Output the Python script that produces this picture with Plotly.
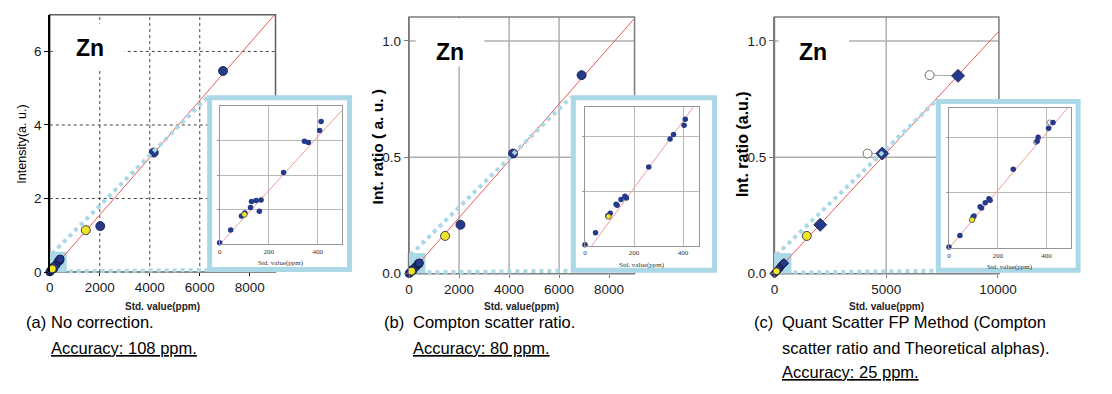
import plotly.graph_objects as go

W, H = 1112, 394

# ---------------- data ----------------
# (a) No correction: intensity (a.u.) vs standard value (ppm)
a_hi_std = [6930, 4160, 2020]
a_hi_val = [5.47, 3.25, 1.25]
a_hi_yel_std = [1440]
a_hi_yel_val = [1.14]
a_lo_std = [0, 45, 89, 103, 126, 130, 149, 169, 162, 261, 346, 362, 408, 414]
a_lo_val = [0.005, 0.042, 0.082, 0.091, 0.107, 0.124, 0.127, 0.129, 0.096, 0.208, 0.299, 0.295, 0.330, 0.356]
a_lo_yel_std = [101]
a_lo_yel_val = [0.087]
a_slope, a_icpt = 0.000778, 0.0

# (b) Compton scatter ratio
b_hi_std = [6900, 4157, 2055]
b_hi_val = [0.853, 0.516, 0.210]
b_hi_yel_std = [1439]
b_hi_yel_val = [0.162]
b_lo_std = [0, 43, 93, 103, 127, 131, 147, 163, 169, 260, 347, 361, 404, 409]
b_lo_val = [0.0004, 0.0048, 0.0110, 0.0119, 0.0152, 0.0148, 0.0169, 0.0181, 0.0175, 0.0288, 0.0390, 0.0406, 0.0440, 0.0462]
b_lo_yel_std = [96]
b_lo_yel_val = [0.0107]
b_slope, b_icpt = 0.000122, -0.0033

# (c) Quant Scatter FP method
c_hi_std = [8215, 4825, 2048]
c_hi_val = [0.850, 0.516, 0.210]
c_hi_open_std = [6943, 4167]
c_hi_open_val = [0.853, 0.516]
c_hi_yel_std = [1447]
c_hi_yel_val = [0.162]
c_lo_std = [0, 45, 99, 103, 128, 134, 149, 164, 169, 264, 362, 366, 409, 427]
c_lo_val = [0.0004, 0.0046, 0.0112, 0.0116, 0.0149, 0.0145, 0.0164, 0.0178, 0.0173, 0.0284, 0.0385, 0.0400, 0.0432, 0.0453]
c_lo_open_std = [357, 414]
c_lo_open_val = [0.0382, 0.0453]
c_lo_yel_std = [95]
c_lo_yel_val = [0.0102]
c_slope, c_icpt = 0.0001037, 0.0

# ticks / grid
a_xticks = [0, 2000, 4000, 6000, 8000]
a_yticks = [0, 2, 4, 6]
a_gridx = [2000, 4000, 6000]
a_gridy = [2, 4, 6]
b_xticks = [0, 2000, 4000, 6000, 8000]
b_yticks = [0.0, 0.5, 1.0]
b_gridx = [2000, 4000, 6000]
b_gridy = [0.5, 1.0]
c_xticks = [0, 5000, 10000]
c_yticks = [0.0, 0.5, 1.0]
c_gridx = [5000]
c_gridy = [0.5, 1.0]
in_xticks = [0, 200, 400]
a_in_yticks = [0.1, 0.2, 0.3]
bc_in_yticks = [0.02, 0.04]

# ---------------- style ----------------
BLUE = "rgb(38,58,140)"
EDGE = "rgb(20,22,60)"
YEL = "rgb(240,228,40)"
LBLUE = "rgb(170,216,230)"
RED = "rgb(232,92,88)"
PINK = "rgb(242,155,150)"
SANS = "Liberation Sans, Arial, sans-serif"
SERIF = "Liberation Serif, Times New Roman, serif"


def fx(p):
    return p / W


def fy(p):
    return 1 - p / H


def hdom(a, b):
    return [a / W, b / W]


def vdom(top, bottom):
    return [1 - bottom / H, 1 - top / H]


def clip_line(m, b, xr, yr):
    pts = []
    for x in xr:
        y = m * x + b
        if yr[0] - 1e-12 <= y <= yr[1] + 1e-12:
            pts.append((x, y))
    for y in yr:
        x = (y - b) / m
        if xr[0] <= x <= xr[1]:
            pts.append((x, y))
    pts = sorted(set(pts))
    return [pts[0][0], pts[-1][0]], [pts[0][1], pts[-1][1]]


panels = {
    "a": dict(main=("x", "y"), ins=("x2", "y2"),
              mx=[46.7, 277], my=[15, 277.7], mxr=[0, 9030], myr=[0, 7.0],
              ix=[220, 345], iy=[108.5, 249.5], ixr=[0, 500], iyr=[0, 0.40]),
    "b": dict(main=("x3", "y3"), ins=("x4", "y4"),
              mx=[413.3, 643.3], my=[17.3, 279.3], mxr=[0, 9020], myr=[0, 1.103],
              ix=[592.7, 709.3], iy=[109, 251], ixr=[0, 466], iyr=[0, 0.0507]),
    "c": dict(main=("x5", "y5"), ins=("x6", "y6"),
              mx=[786, 1015], my=[17.3, 279.3], mxr=[0, 10044], myr=[0, 1.103],
              ix=[964, 1088.3], iy=[110, 253.3], ixr=[0, 500], iyr=[0, 0.0506]),
}

fig = go.Figure()


def add_scatter(x, y, ax, size, color, line_color, line_w, symbol="circle"):
    fig.add_trace(go.Scatter(
        x=x, y=y, mode="markers", xaxis=ax[0], yaxis=ax[1], cliponaxis=False,
        marker=dict(size=size, color=color, symbol=symbol,
                    line=dict(color=line_color, width=line_w)),
        showlegend=False, hoverinfo="skip"))


def add_line(m, b, p, which, color):
    if which == "main":
        lx, ly = clip_line(m, b, p["mxr"], p["myr"])
        ax = p["main"]
    else:
        lx, ly = clip_line(m, b, p["ixr"], p["iyr"])
        ax = p["ins"]
    fig.add_trace(go.Scatter(x=lx, y=ly, mode="lines", xaxis=ax[0], yaxis=ax[1],
                             line=dict(color=color, width=1), showlegend=False,
                             hoverinfo="skip"))


# ---- panel a ----
pa = panels["a"]
add_line(a_slope, a_icpt, pa, "main", RED)
add_scatter(a_lo_std, a_lo_val, pa["main"], 8, BLUE, EDGE, 0.8)
add_scatter(a_lo_yel_std, a_lo_yel_val, pa["main"], 8, YEL, EDGE, 0.8)
add_scatter(a_hi_std, a_hi_val, pa["main"], 9, BLUE, EDGE, 0.8)
add_scatter(a_hi_yel_std, a_hi_yel_val, pa["main"], 9, YEL, EDGE, 0.8)

# ---- panel b ----
pb = panels["b"]
add_line(b_slope, b_icpt, pb, "main", RED)
add_scatter(b_lo_std, b_lo_val, pb["main"], 8, BLUE, EDGE, 0.8)
add_scatter(b_lo_yel_std, b_lo_yel_val, pb["main"], 8, YEL, EDGE, 0.8)
add_scatter(b_hi_std, b_hi_val, pb["main"], 9, BLUE, EDGE, 0.8)
add_scatter(b_hi_yel_std, b_hi_yel_val, pb["main"], 9, YEL, EDGE, 0.8)

# ---- panel c ----
pc = panels["c"]
add_line(c_slope, c_icpt, pc, "main", RED)
conn_x, conn_y = [], []
for xo, yo, xd, yd in zip(c_hi_open_std, c_hi_open_val, c_hi_std, c_hi_val):
    conn_x += [xo, xd, None]
    conn_y += [yo, yd, None]
fig.add_trace(go.Scatter(x=conn_x, y=conn_y, mode="lines", xaxis="x5", yaxis="y5",
                         line=dict(color="rgb(170,170,170)", width=1),
                         showlegend=False, hoverinfo="skip"))
add_scatter(c_lo_std, c_lo_val, pc["main"], 7, BLUE, EDGE, 0.8, "diamond")
add_scatter(c_lo_yel_std, c_lo_yel_val, pc["main"], 7, YEL, EDGE, 0.8)
add_scatter(c_hi_open_std, c_hi_open_val, pc["main"], 9, "white", "rgb(110,110,110)", 1)
add_scatter(c_hi_std, c_hi_val, pc["main"], 10, BLUE, EDGE, 0.8, "diamond")
add_scatter(c_hi_yel_std, c_hi_yel_val, pc["main"], 9, YEL, EDGE, 0.8)

# ---- insets ----
for key, lo_x, lo_y, ly_x, ly_y, m, b in [
    ("a", a_lo_std, a_lo_val, a_lo_yel_std, a_lo_yel_val, a_slope, a_icpt),
    ("b", b_lo_std, b_lo_val, b_lo_yel_std, b_lo_yel_val, b_slope, b_icpt),
    ("c", c_lo_std, c_lo_val, c_lo_yel_std, c_lo_yel_val, c_slope, c_icpt),
]:
    p = panels[key]
    add_line(m, b, p, "ins", PINK)
    if key == "c":
        add_scatter(c_lo_open_std, c_lo_open_val, p["ins"], 5, "white", "rgb(110,110,110)", 0.8)
    add_scatter(lo_x, lo_y, p["ins"], 5.5, BLUE, BLUE, 0)
    add_scatter(ly_x, ly_y, p["ins"], 5.5, YEL, EDGE, 0.6)

# ---------------- axes ----------------
tickfont = dict(family=SANS, size=13.5, color="#1a1a1a")
layout = dict(width=W, height=H, margin=dict(l=0, r=0, t=0, b=0, pad=0),
              paper_bgcolor="white", plot_bgcolor="rgba(0,0,0,0)", showlegend=False)

main_ticks = {"a": (a_xticks, a_yticks, None), "b": (b_xticks, b_yticks, ".1f"),
              "c": (c_xticks, c_yticks, ".1f")}
idx = {"a": (1, 2), "b": (3, 4), "c": (5, 6)}
for key, p in panels.items():
    mi, ii = idx[key]
    xt, yt, yfmt = main_ticks[key]
    axcol = "black" if key == "a" else "rgb(120,120,120)"
    layout["xaxis%s" % ("" if mi == 1 else mi)] = dict(
        domain=hdom(*p["mx"]), range=p["mxr"], anchor=p["main"][1],
        tickvals=xt, tickformat="d", ticks="outside", ticklen=3, tickcolor=axcol,
        showgrid=False, zeroline=False, showline=False, tickfont=tickfont)
    ydict = dict(domain=vdom(*p["my"]), range=p["myr"], anchor=p["main"][0],
                 tickvals=yt, ticks="outside", ticklen=4, tickcolor=axcol,
                 showgrid=False, zeroline=False, showline=True,
                 linecolor=axcol, linewidth=1.5, tickfont=tickfont)
    if yfmt:
        ydict["tickformat"] = yfmt
    layout["yaxis%s" % ("" if mi == 1 else mi)] = ydict
    layout["xaxis%d" % ii] = dict(
        domain=hdom(*p["ix"]), range=p["ixr"], anchor=p["ins"][1],
        tickvals=in_xticks, ticks="", showgrid=True, gridcolor="rgb(185,185,185)",
        gridwidth=1, zeroline=False, showline=True, mirror=True,
        linecolor="rgb(150,150,150)", linewidth=1,
        tickfont=dict(family=SERIF, size=7, color="#333"))
    layout["yaxis%d" % ii] = dict(
        domain=vdom(*p["iy"]), range=p["iyr"], anchor=p["ins"][0],
        tickvals=a_in_yticks if key == "a" else bc_in_yticks,
        showticklabels=False, ticks="outside", ticklen=2, tickcolor="#999",
        showgrid=True, gridcolor="rgb(185,185,185)", gridwidth=1,
        zeroline=False, showline=True, mirror=True,
        linecolor="rgb(150,150,150)", linewidth=1)

# ---------------- shapes ----------------
shapes = []
grids = {"a": (a_gridx, a_gridy, dict(color="rgb(70,70,70)", width=1, dash="dot")),
         "b": (b_gridx, b_gridy, dict(color="rgb(175,175,175)", width=1.5)),
         "c": (c_gridx, c_gridy, dict(color="rgb(175,175,175)", width=1.5))}
for key, p in panels.items():
    gx, gy, gl = grids[key]
    xa, ya = p["main"]
    for v in gx:
        shapes.append(dict(type="line", xref=xa, yref=ya + " domain", x0=v, x1=v,
                           y0=0, y1=1, line=gl, layer="below"))
    for v in gy:
        shapes.append(dict(type="line", xref=xa + " domain", yref=ya, x0=0, x1=1,
                           y0=v, y1=v, line=gl, layer="below"))
    fcol = "rgb(95,95,95)" if key == "a" else "rgb(125,125,125)"
    shapes.append(dict(type="rect", xref=xa + " domain", yref=ya + " domain",
                       x0=0, x1=1, y0=0, y1=1, line=dict(color=fcol, width=1.5),
                       layer="below"))

# zoom boxes near origin, inset frames and connectors (pixel positions)
deco = {
    "a": dict(box=(46, 64, 257, 278), frame=(207.3, 355, 97.3, 277.7)),
    "b": dict(box=(411.7, 430, 258.3, 279), frame=(578.3, 727.3, 97.3, 278.3)),
    "c": dict(box=(785, 803.3, 258.3, 279.3), frame=(950.7, 1098.3, 101, 278.3)),
}
BW = 5
for key, d in deco.items():
    bx0, bx1, by0, by1 = d["box"]
    shapes.append(dict(type="rect", xref="paper", yref="paper",
                       x0=fx(bx0), x1=fx(bx1), y0=fy(by1), y1=fy(by0),
                       fillcolor=LBLUE, line=dict(width=0), layer="below"))
    f0, f1, g0, g1 = d["frame"]
    h = BW / 2
    shapes.append(dict(type="rect", xref="paper", yref="paper",
                       x0=fx(f0 + h), x1=fx(f1 - h), y0=fy(g1 - h), y1=fy(g0 + h),
                       fillcolor="white", line=dict(color=LBLUE, width=BW),
                       layer="below"))
    dl = dict(color=LBLUE, width=4, dash="dot")
    shapes.append(dict(type="line", xref="paper", yref="paper",
                       x0=fx(bx0 + 3), y0=fy(by0 + 2), x1=fx(f0), y1=fy(g0 + 2),
                       line=dl, layer="above"))
    shapes.append(dict(type="line", xref="paper", yref="paper",
                       x0=fx(bx1 + 2), y0=fy(by1 - 1), x1=fx(f0), y1=fy(g1 - 2),
                       line=dl, layer="above"))

# white boxes behind the element label
zn = {"a": ((53, 123, 24, 71), (88, 49)),
      "b": ((420, 490, 19, 68), (455, 53)),
      "c": ((790, 862, 19, 68), (825, 53))}
annotations = []
for key, (bx, tc) in zn.items():
    shapes.append(dict(type="rect", xref="paper", yref="paper",
                       x0=fx(bx[0]), x1=fx(bx[1]), y0=fy(bx[3]), y1=fy(bx[2]),
                       fillcolor="white", line=dict(width=0), layer="above"))
    annotations.append(dict(text="<b>Zn</b>", x=fx(tc[0]), y=fy(tc[1]), xref="paper",
                            yref="paper", xanchor="center", yanchor="middle",
                            showarrow=False, font=dict(family=SANS, size=23, color="black")))


def ann(text, x, y, size, family=SANS, xanchor="left", angle=0, color="black"):
    annotations.append(dict(text=text, x=fx(x), y=fy(y), xref="paper", yref="paper",
                            xanchor=xanchor, yanchor="middle", showarrow=False,
                            textangle=angle, font=dict(family=family, size=size, color=color)))


# axis titles
ann("Intensity(a. u.)", 18, 147, 12.5, xanchor="center", angle=-90)
ann("<b>Int. ratio ( a. u. )</b>", 381, 150, 15.5, xanchor="center", angle=-90)
ann("<b>Int. ratio (a.u.)</b>", 753, 147, 16, xanchor="center", angle=-90)
for key, p in panels.items():
    cx = (p["mx"][0] + p["mx"][1]) / 2
    ann("<b>Std. value(ppm)</b>", cx, 313, 10, xanchor="center", color="#222")
    icx = (p["ix"][0] + p["ix"][1]) / 2
    ann("Std. value(ppm)", icx, p["iy"][1] + 19, 7, family=SERIF, xanchor="center", color="#333")

# captions
CAP = 16.5
ann("(a)", 20, 329, CAP)
ann("No correction.", 46, 329, CAP)
ann("<u>Accuracy: 108 ppm.</u>", 46, 355, CAP)
ann("(b)", 386, 329, CAP)
ann("Compton scatter ratio.", 415, 329, CAP)
ann("<u>Accuracy: 80 ppm.</u>", 415, 355, CAP)
ann("(c)", 763, 329, CAP)
ann("Quant Scatter FP Method (Compton", 792, 329, CAP)
ann("scatter ratio and Theoretical alphas).", 792, 355, CAP)
ann("<u>Accuracy: 25 ppm.</u>", 792, 380, CAP)

layout["shapes"] = shapes
layout["annotations"] = annotations
fig.update_layout(**layout)

POST = (
    "var st=document.createElement('style');"
    "st.innerHTML='html,body{margin:0!important;padding:0!important;overflow:hidden!important;}';"
    "document.head.appendChild(st);"
)
fig.write_html("out.html", config={"displayModeBar": False, "staticPlot": True},
               post_script=POST)
